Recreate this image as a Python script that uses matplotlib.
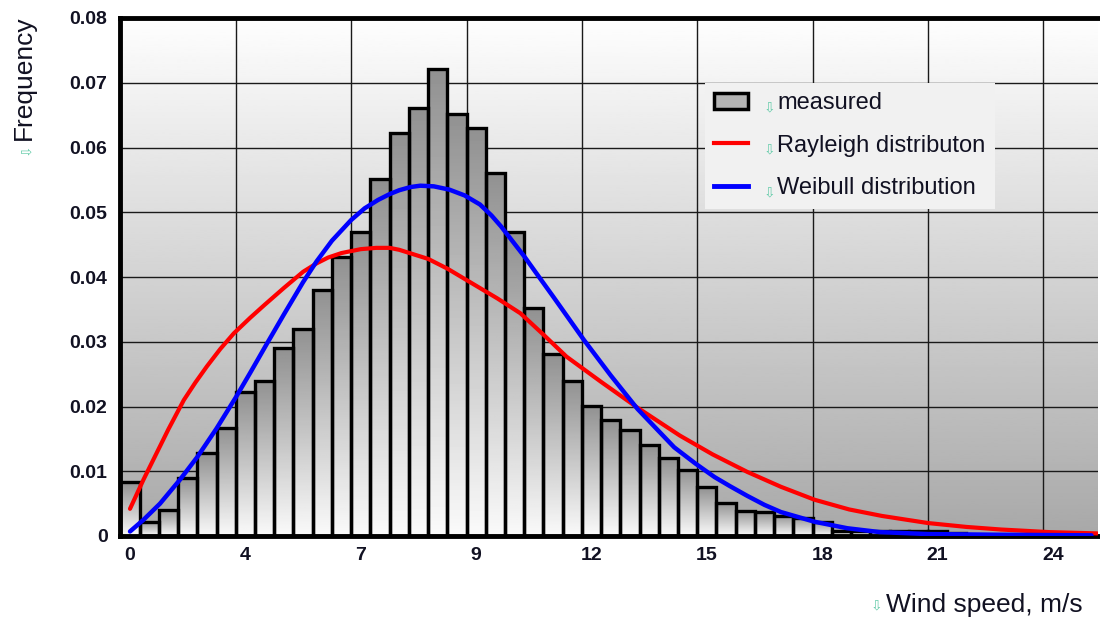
import numpy as np
import matplotlib
matplotlib.use('Agg')
import matplotlib.pyplot as plt
from matplotlib.patches import Patch
from matplotlib.lines import Line2D

plt.rcParams['font.family'] = ['Liberation Sans', 'DejaVu Sans']

# ---- data ----
measured = [0.0083, 0.0022, 0.0040, 0.0090, 0.0128, 0.0167, 0.0222, 0.0240, 0.0290,
            0.0320, 0.0380, 0.0431, 0.0470, 0.0551, 0.0622, 0.0661, 0.0721, 0.0652,
            0.0630, 0.0561, 0.0470, 0.0352, 0.0281, 0.0240, 0.0201, 0.0179, 0.0164,
            0.0140, 0.0120, 0.0102, 0.0075, 0.0051, 0.0039, 0.0037, 0.0031, 0.0028,
            0.0022, 0.0008, 0.0008, 0.0008, 0.0008, 0.0008, 0.0008, 0.0005, 0, 0, 0,
            0, 0, 0, 0]
tick_labels = ['0', '4', '7', '9', '12', '15', '18', '21', '24']

rayleigh_x = [0, 0.7, 1.2, 2.0, 2.8, 3.4, 4, 4.7, 5.4, 6.25, 7, 8, 9.0, 9.7, 10.3, 11,
              12, 12.8, 13.5, 14, 15.5, 16.5, 17.8, 19.1, 20.3, 21.5, 22.7, 24.5, 26.4,
              28.6, 30.3, 32.1, 33.85, 35.6, 37.4, 39.1, 41.5, 43.5, 45.3, 47.8, 50.3]
rayleigh_y = [0.0042, 0.0087, 0.0117, 0.0165, 0.0210, 0.0237, 0.0262, 0.0289, 0.0313,
              0.0337, 0.0357, 0.0383, 0.0408, 0.0421, 0.0430, 0.0437, 0.0443, 0.0445,
              0.0445, 0.0442, 0.0428, 0.0413, 0.0390, 0.0367, 0.0344, 0.0311, 0.0277,
              0.0238, 0.0198, 0.0155, 0.0126, 0.0099, 0.0076, 0.0056, 0.0041, 0.0031,
              0.0020, 0.0014, 0.0010, 0.0006, 0.0004]

weibull_x = [0, 0.7, 1.56, 2.6, 3.5, 4.5, 5.5, 6.25, 7.1, 8.0, 9.0, 9.7, 10.5, 11.5,
             12.2, 12.9, 13.5, 14, 14.6, 15.1, 15.8, 16.6, 17.4, 18.2, 18.8, 19.3,
             20.5, 21.2, 22.0, 23.6, 25.0, 26.4, 28.3, 29.4, 30.4, 31.2, 32.1, 33.0,
             33.85, 35.6, 37.3, 39.0, 41.5, 45.0, 50.0]
weibull_y = [0.0007, 0.0025, 0.0050, 0.0087, 0.0122, 0.0166, 0.0214, 0.0252, 0.0296,
             0.0342, 0.0392, 0.0424, 0.0456, 0.0488, 0.0506, 0.0519, 0.0528, 0.0534,
             0.0539, 0.0541, 0.0540, 0.0535, 0.0526, 0.0512, 0.0495, 0.0478, 0.0432,
             0.0403, 0.0370, 0.0303, 0.0248, 0.0196, 0.0137, 0.0112, 0.0091, 0.0077,
             0.0062, 0.0048, 0.0037, 0.0022, 0.0012, 0.0006, 0.0003, 0.0002, 0.0001]

legend_labels = ['measured', 'Rayleigh distributon', 'Weibull distribution']

# ---- figure ----
fig = plt.figure(figsize=(11, 6.23), dpi=100)
ax = fig.add_axes([120 / 1100, 87 / 623, 978 / 1100, 518 / 623])

x0, x1 = -0.52, 50.34
y0, y1 = 0, 0.08

# background gradient (white at top, grey at bottom)
bg = np.linspace(0.66, 0.995, 256).reshape(-1, 1)
ax.imshow(bg, cmap='gray', vmin=0, vmax=1, extent=[x0, x1, y0, y1],
          aspect='auto', origin='lower', zorder=0)

# bars: each one gets its own grey->white gradient
bar_grad = np.linspace(0.98, 0.57, 128).reshape(-1, 1)
xs = np.arange(len(measured))
for i, h in zip(xs, measured):
    if h > 0:
        ax.imshow(bar_grad, cmap='gray', vmin=0, vmax=1,
                  extent=[i - 0.5, i + 0.5, 0, h], aspect='auto',
                  origin='lower', zorder=2)
ax.bar(xs, measured, width=1.0, facecolor='none', edgecolor='black',
       linewidth=2.4, zorder=2.5)

ax.plot(rayleigh_x, rayleigh_y, color='#ff0000', lw=3, zorder=3,
        solid_capstyle='round', solid_joinstyle='round')
ax.plot(weibull_x, weibull_y, color='#0000ff', lw=3.2, zorder=3.1,
        solid_capstyle='round', solid_joinstyle='round')

ax.set_xlim(x0, x1)
ax.set_ylim(y0, y1)

# ticks and grid
ax.set_xticks(np.arange(0, 6 * len(tick_labels), 6))
ax.set_xticklabels(tick_labels)
ax.set_xticks(np.arange(5.5, 50, 6), minor=True)
yt = np.arange(0, 0.0801, 0.01)
ax.set_yticks(yt)
ax.set_yticklabels(['0' if v == 0 else f'{v:.2f}' for v in yt])
ax.set_axisbelow(True)
ax.grid(which='minor', axis='x', color='#1a1a1a', lw=1.0)
ax.grid(which='major', axis='y', color='#1a1a1a', lw=1.0)
ax.tick_params(which='both', length=0)
ax.tick_params(axis='y', pad=9)
ax.tick_params(axis='x', pad=8)
for lab in ax.get_xticklabels() + ax.get_yticklabels():
    lab.set_fontsize(14)
    lab.set_fontweight('bold')
    lab.set_color('#111122')

for s in ['left', 'top', 'bottom']:
    ax.spines[s].set_linewidth(3.5)
    ax.spines[s].set_color('black')
ax.spines['right'].set_visible(False)

arrow_col = '#66ccaa'

# axis titles
fig.text(24 / 1100, 1 - 140 / 623, 'Frequency', rotation=90, ha='center',
         va='bottom', fontsize=19, color='#111122')
fig.text(25 / 1100, 1 - 149 / 623, '\u21e9', rotation=90, ha='center',
         va='center', fontsize=10, color=arrow_col)
fig.text(1083 / 1100, 1 - 612 / 623, 'Wind speed, m/s', ha='right',
         va='baseline', fontsize=19, color='#111122')
fig.text(876 / 1100, 1 - 605 / 623, '\u21e9', ha='center', va='center',
         fontsize=10, color=arrow_col)

# legend
handles = [Patch(facecolor='#b4b4b4', edgecolor='black', lw=2.5),
           Line2D([], [], color='#ff0000', lw=3),
           Line2D([], [], color='#0000ff', lw=3.5)]
leg = ax.legend(handles, legend_labels,
                loc='upper left', bbox_to_anchor=(705 / 1100, 1 - 83 / 623),
                bbox_transform=fig.transFigure, borderaxespad=0,
                fontsize=17, handlelength=1.4, handleheight=0.7,
                handletextpad=1.25, labelspacing=0.86, borderpad=0.4,
                frameon=True, fancybox=False, facecolor='#f1f1f1',
                edgecolor='none', framealpha=1)
leg.set_zorder(5)
for t in leg.get_texts():
    t.set_color('#111122')

# small green arrows in front of legend texts
fig.canvas.draw()
inv = fig.transFigure.inverted()
for t in leg.get_texts():
    bb = t.get_window_extent()
    px = bb.x0 - 8
    py = bb.y0 + bb.height * 0.32
    fx, fy = inv.transform((px, py))
    fig.text(fx, fy, '\u21e9', ha='center', va='center', fontsize=10,
             color=arrow_col, zorder=6)

plt.savefig('out.png', dpi=100)
